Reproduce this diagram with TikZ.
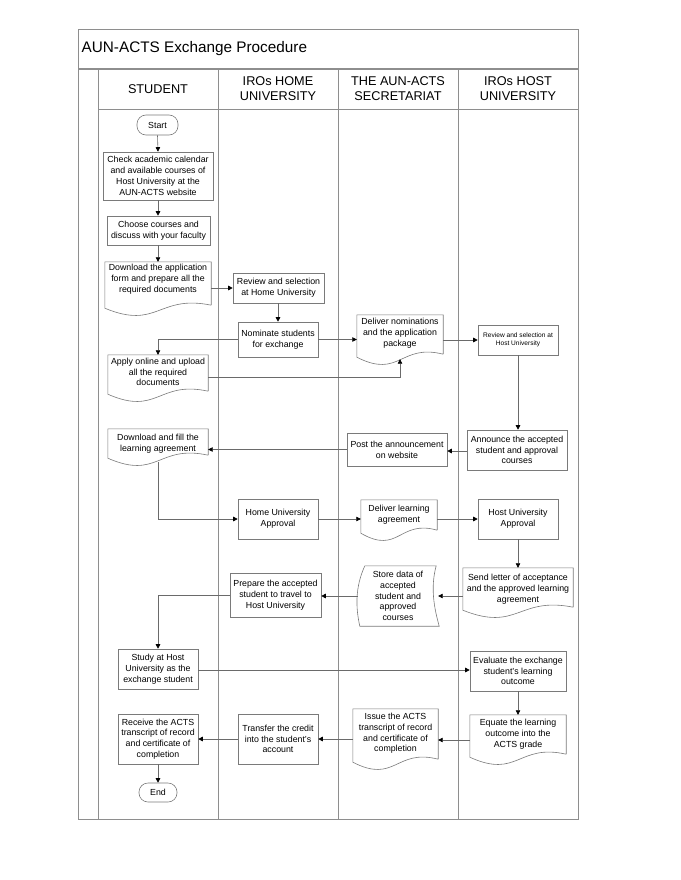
\documentclass[tikz,border=0pt]{standalone}
\usepackage{fontspec}
\setmainfont{Liberation Sans}
\usetikzlibrary{arrows.meta,calc}
\definecolor{framegray}{HTML}{8E8E8E}
\definecolor{boxgray}{HTML}{7A7A7A}
\definecolor{conngray}{HTML}{6A6A6A}
\newcommand\bodyfont{\fontsize{8.8}{10.8}\selectfont}
\newcommand\headfont{\fontsize{12.7}{15}\selectfont}
% document outline: #1 node name, #2 extra length of the sides below the node
\newcommand\docshape[2]{%
  \draw[boxline] ([yshift=3pt-#2]#1.south east) -- (#1.north east) -- (#1.north west) -- ([yshift=-#2]#1.south west)
    .. controls ([yshift=-22pt-#2]#1.south) and ([yshift=14pt-#2]#1.south) .. ([yshift=3pt-#2]#1.south east);}
\newcommand\storeshape[1]{%
  \draw[boxline] ([xshift=7pt]#1.north west) -- ([xshift=-2pt]#1.north east)
    .. controls ([xshift=-8pt,yshift=-22pt]#1.north east) and ([xshift=-4pt,yshift=18pt]#1.south east) .. ([xshift=1pt]#1.south east)
    -- ([xshift=2pt]#1.south west)
    .. controls ([xshift=-2pt,yshift=18pt]#1.south west) and ([xshift=-3pt,yshift=-22pt]#1.north west) .. ([xshift=7pt]#1.north west) -- cycle;}
\tikzset{
  boxline/.style={draw=boxgray, line width=0.6pt},
  procbox/.style={boxline, rectangle, inner sep=1pt, align=center, font=\bodyfont},
  termbox/.style={procbox, rounded corners=9pt},
  docnode/.style={rectangle, inner sep=1pt, align=center, font=\bodyfont},
  conn/.style={draw=conngray, line width=0.6pt, -{Triangle[length=4.5pt,width=4.5pt,color=black]}},
  frameline/.style={draw=framegray, line width=0.9pt},
  headtext/.style={align=center, font=\headfont, inner sep=0pt},
}
\begin{document}
\begin{tikzpicture}[x=1pt,y=-1pt]
\useasboundingbox (0,0) rectangle (680,880);
% frame and lanes
\draw[frameline] (78,29.5) rectangle (578,819);
\draw[draw=framegray, line width=1.4pt] (78,69) -- (578,69);
\draw[frameline] (98.7,69) -- (98.7,819);
\draw[frameline] (98.7,109) -- (578,109);
\foreach \xx in {218.3,338.3,458.3} \draw[frameline] (\xx,69) -- (\xx,819);
\node[anchor=west, font=\fontsize{15.3}{18}\selectfont, inner sep=0pt] (title) at (81.5,49) {AUN-ACTS Exchange Procedure};
\node[headtext] (hstudent) at (158,89) {STUDENT};
\node[headtext] (hhome) at (278,89) {IROs HOME\\UNIVERSITY};
\node[headtext] (hsec) at (398,89) {THE AUN-ACTS\\SECRETARIAT};
\node[headtext] (hhost) at (518,89) {IROs HOST\\UNIVERSITY};
% nodes
\node[termbox, minimum width=41pt, minimum height=20pt] (start) at (157.5,125) {Start};
\node[procbox, minimum width=110pt, minimum height=48pt] (check) at (158,176) {Check academic calendar\\and available courses of\\Host University at the\\AUN-ACTS website};
\node[procbox, minimum width=103pt, minimum height=29pt] (choose) at (158.5,230.5) {Choose courses and\\discuss with your faculty};
\node[docnode, minimum width=106pt, minimum height=34pt] (download) at (158,279) {Download the application\\form and prepare all the\\required documents};
\docshape{download}{12pt}
\node[procbox, minimum width=91pt, minimum height=30pt] (reviewhome) at (278.5,288) {Review and selection\\at Home University};
\node[procbox, minimum width=80pt, minimum height=35pt] (nominate) at (278,339.5) {Nominate students\\for exchange};
\node[docnode, minimum width=100pt, minimum height=34pt] (apply) at (158,372) {Apply online and upload\\all the required\\documents};
\docshape{apply}{5pt}
\node[docnode, minimum width=86pt, minimum height=36pt] (delnom) at (400,333) {Deliver nominations\\and the application\\package};
\docshape{delnom}{6pt}
\node[procbox, minimum width=80pt, minimum height=30pt, font=\fontsize{6.6}{8.5}\selectfont] (reviewhost) at (518,340) {Review and selection at\\Host University};
\node[procbox, minimum width=100pt, minimum height=40pt] (announce) at (517,450) {Announce the accepted\\student and approval\\courses};
\node[procbox, minimum width=100pt, minimum height=33pt] (post) at (397,449.5) {Post the announcement\\on website};
\node[docnode, minimum width=100pt, minimum height=29pt] (dlearn) at (158,443.5) {Download and fill the\\learning agreement};
\docshape{dlearn}{0pt}
\node[procbox, minimum width=80pt, minimum height=40pt] (homeappr) at (278,519) {Home University\\Approval};
\node[docnode, minimum width=76pt, minimum height=30pt] (dlagree) at (399,515) {Deliver learning\\agreement};
\docshape{dlagree}{3pt}
\node[procbox, minimum width=80pt, minimum height=40pt] (hostappr) at (518,519) {Host University\\Approval};
\node[docnode, minimum width=110pt, minimum height=42pt] (sendletter) at (518,589) {Send letter of acceptance\\and the approved learning\\agreement};
\docshape{sendletter}{0pt}
\node[docnode, minimum width=80pt, minimum height=60pt] (store) at (398,596) {Store data of\\accepted\\student and\\approved\\courses};
\storeshape{store}
\node[procbox, minimum width=91pt, minimum height=44pt] (prepare) at (275.5,595) {Prepare the accepted\\student to travel to\\Host University};
\node[procbox, minimum width=80pt, minimum height=40pt] (study) at (158,669) {Study at Host\\University as the\\exchange student};
\node[procbox, minimum width=96pt, minimum height=40pt] (evaluate) at (518,671) {Evaluate the exchange\\student's learning\\outcome};
\node[docnode, minimum width=96pt, minimum height=38pt] (equate) at (518,734) {Equate the learning\\outcome into the\\ACTS grade};
\docshape{equate}{4pt}
\node[docnode, minimum width=85pt, minimum height=49pt] (issue) at (395.5,733.5) {Issue the ACTS\\transcript of record\\and certificate of\\completion};
\docshape{issue}{4pt}
\node[procbox, minimum width=80pt, minimum height=50pt] (transfer) at (278,739) {Transfer the credit\\into the student's\\account};
\node[procbox, minimum width=80pt, minimum height=50pt] (receive) at (158,739) {Receive the ACTS\\transcript of record\\and certificate of\\completion};
\node[termbox, minimum width=38pt, minimum height=19pt] (end) at (158,792.5) {End};
% connectors
\draw[conn] (start.south) -- (check.north);
\draw[conn] (check.south) -- (choose.north -| check.south);
\draw[conn] (choose.south -| download.north) -- (download.north);
\draw[conn] (reviewhome.west -| download.east) -- (reviewhome.west);
\draw[conn] (reviewhome.south -| nominate.north) -- (nominate.north);
\draw[conn] (nominate.west) -| (apply.north);
\draw[conn] (nominate.east) -- (nominate.east -| delnom.west);
\draw[conn] ([yshift=-5pt]apply.east) -| ([yshift=-8pt]delnom.south);
\draw[conn] (reviewhost.west -| delnom.east) -- (reviewhost.west);
\draw[conn] (reviewhost.south) -- (reviewhost.south |- announce.north);
\draw[conn] ([yshift=-1pt]announce.west) -- ([yshift=-1pt]announce.west -| post.east);
\draw[conn] (post.west) -- (post.west -| dlearn.east);
\draw[conn] ([yshift=-4pt]dlearn.south) |- (homeappr.west);
\draw[conn] (homeappr.east) -- (homeappr.east -| dlagree.west);
\draw[conn] (hostappr.west -| dlagree.east) -- (hostappr.west);
\draw[conn] (hostappr.south) -- (sendletter.north);
\draw[conn] (store.east -| sendletter.west) -- (store.east);
\draw[conn] (store.west) -- (store.west -| prepare.east);
\draw[conn] (prepare.west) -| (study.north);
\draw[conn] ([yshift=-1pt]study.east) -- ([yshift=-1pt]study.east -| evaluate.west);
\draw[conn] (evaluate.south) -- (equate.north);
\draw[conn] ([yshift=-6pt]equate.west) -- ([yshift=-6pt]equate.west -| issue.east);
\draw[conn] (transfer.east -| issue.west) -- (transfer.east);
\draw[conn] (transfer.west) -- (receive.east);
\draw[conn] (receive.south) -- (end.north);
\end{tikzpicture}
\end{document}
